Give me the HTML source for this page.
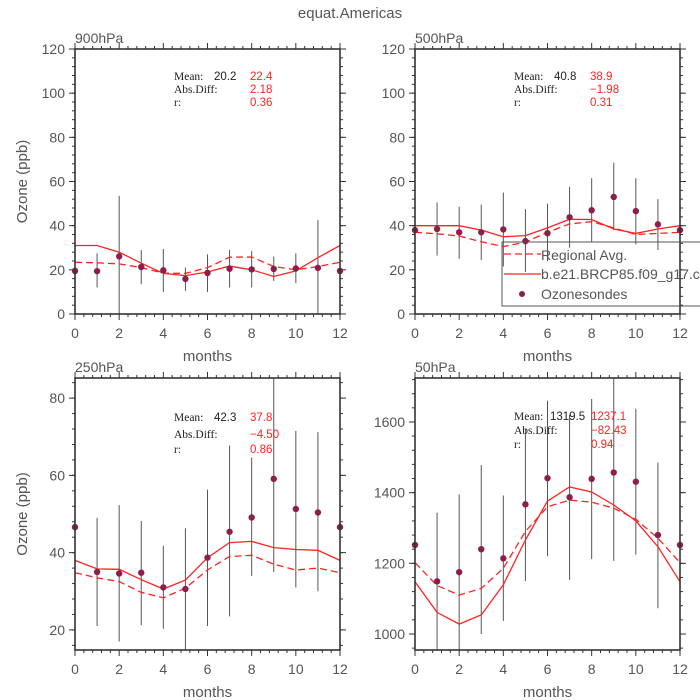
<!DOCTYPE html>
<html><head><meta charset="utf-8">
<style>
html,body{margin:0;padding:0;background:#fff;}
svg{display:block;font-family:"Liberation Sans",sans-serif;}
</style></head>
<body>
<svg id="chart" width="700" height="700" viewBox="0 0 700 700">
<text x="350" y="18" text-anchor="middle" font-size="15" fill="#555">equat.Americas</text>
</svg>
<script>
const months = [0,1,2,3,4,5,6,7,8,9,10,11,12];
const xTicks = [0,2,4,6,8,10,12];
const panelNames = ["900hPa","500hPa","250hPa","50hPa"];
// 900hPa
const p900Model = [31,31,28,23,18.4,17.4,19,21.7,20,17,19.5,25.5,31];
const p900Regional = [23.4,23.2,22.7,21,18.5,18.4,21,25.7,25.8,21.5,20,21.5,23.4];
const p900Obs = [19.5,19.4,26.1,21.3,19.8,15.9,18.6,20.5,20.2,20.4,20.6,20.9,19.5];
const p900Lo = [null,12,0,13.5,10,10.5,10,12,12,15,14,0,null];
const p900Hi = [null,27.5,53.5,29,29.5,21,27,29,28.5,26,27.5,42.5,null];
const p900Ticks = [0,20,40,60,80,100,120];
const p900Stats = ["20.2","22.4","2.18","0.36"];
// 500hPa
const p500Model = [40,40,40,38,35,35.5,39,42.9,42.8,38.5,36.5,38.5,40];
const p500Regional = [37,36.3,35.3,32.7,30.5,32.5,37,40.8,41.8,39,36,36.5,37];
const p500Obs = [38,38.5,37,37,38.3,33,36.6,43.8,47,53,46.6,40.6,38];
const p500Lo = [null,26.5,25,24.5,21.5,19,24,30,32.5,38,31.5,29,null];
const p500Hi = [null,50.5,48.5,49.5,55,47.5,50,57.5,61.5,68.5,61.5,52,null];
const p500Ticks = [0,20,40,60,80,100,120];
const p500Stats = ["40.8","38.9","\u22121.98","0.31"];
// 250hPa
const p250Model = [38,35.8,35.7,33,30.6,32.9,38.7,42.6,42.9,41.3,40.8,40.6,38];
const p250Regional = [34.8,33.5,32.5,29.7,28.3,30.8,35.5,39,39.3,37,35.5,36,34.8];
const p250Obs = [46.6,35,34.6,34.8,31,30.6,38.7,45.4,49.1,59.1,51.3,50.4,46.6];
const p250Lo = [null,21,17,21.2,20.3,10,21,23.5,34,35,31,30,null];
const p250Hi = [null,49,52.3,48.2,41.8,46.3,56.3,67.7,64.6,95,71.5,71.2,null];
const p250Ticks = [20,40,60,80];
const p250Stats = ["42.3","37.8","\u22124.50","0.86"];
// 50hPa
const p50Model = [1148,1061,1028,1054,1139,1266,1376,1416,1402,1365,1320,1247,1148];
const p50Regional = [1202,1137,1110,1129,1186,1290,1360,1379,1373,1356,1325,1271,1202];
const p50Obs = [1252,1149,1175,1240,1214,1367,1441,1387,1439,1457,1431,1280,1252];
const p50Lo = [null,900,900,1000,1037,1150,1220,1153,1212,1207,1225,1073,null];
const p50Hi = [null,1343,1395,1478,1392,1580,1660,1620,1665,1800,1638,1485,null];
const p50Ticks = [1000,1200,1400,1600];
const p50Stats = ["1319.5","1237.1","\u221282.43","0.94"];

const NS="http://www.w3.org/2000/svg";
const svg=document.getElementById('chart');
function mk(tag,attrs,parent){const e=document.createElementNS(NS,tag);for(const k in attrs)e.setAttribute(k,attrs[k]);(parent||svg).appendChild(e);return e;}

const panels=[
 {name:panelNames[0],x0:75,x1:340,y0:49,y1:314,ymin:0,ymax:120,minor:4,model:p900Model,reg:p900Regional,obs:p900Obs,lo:p900Lo,hi:p900Hi,ticks:p900Ticks,stats:p900Stats,sx:174,sv:214,sr:250,sy:[80,93,106],ylab:true,key:'p900'},
 {name:panelNames[1],x0:415,x1:680,y0:49,y1:314,ymin:0,ymax:120,minor:4,model:p500Model,reg:p500Regional,obs:p500Obs,lo:p500Lo,hi:p500Hi,ticks:p500Ticks,stats:p500Stats,sx:514,sv:554,sr:590,sy:[80,93,106],ylab:false,key:'p500'},
 {name:panelNames[2],x0:75,x1:340,y0:378,y1:650,ymin:14.8,ymax:85.2,minor:4,model:p250Model,reg:p250Regional,obs:p250Obs,lo:p250Lo,hi:p250Hi,ticks:p250Ticks,stats:p250Stats,sx:174,sv:214,sr:250,sy:[421,438,453],ylab:true,key:'p250'},
 {name:panelNames[3],x0:415,x1:680,y0:378,y1:650,ymin:954.7,ymax:1724.5,minor:4,model:p50Model,reg:p50Regional,obs:p50Obs,lo:p50Lo,hi:p50Hi,ticks:p50Ticks,stats:p50Stats,sx:514,sv:550,sr:591,sy:[420,434,448],ylab:false,key:'p50'}
];

panels.forEach(p=>{
 const g=mk('g',{});
 
 
 const clipId='clip-'+p.key;
 const cp=mk('clipPath',{id:clipId},g);
 mk('rect',{x:p.x0,y:p.y0,width:p.x1-p.x0,height:p.y1-p.y0},cp);
 const X=v=>p.x0+(v-0)/12*(p.x1-p.x0);
 const Y=v=>p.y1-(v-p.ymin)/(p.ymax-p.ymin)*(p.y1-p.y0);
 // panel label
 const lbl=mk('text',{x:p.x0,y:p.y0-6,'font-size':14,fill:'#555'},g);lbl.textContent=p.name;
 
 
 // ticks
 const tg=mk('g',{stroke:'#333','stroke-width':1},g);
 
 
 for(let i=0;i<xTicks.length;i++){
   const x=X(xTicks[i]);
   mk('line',{x1:x,x2:x,y1:p.y1,y2:p.y1+6},tg);mk('line',{x1:x,x2:x,y1:p.y0,y2:p.y0-6},tg);
   const t=mk('text',{x:x,y:p.y1+24,'text-anchor':'middle','font-size':14,fill:'#555',stroke:'none'},g);t.textContent=xTicks[i];
   
   
   if(i<xTicks.length-1){for(let k=1;k<=p.minor;k++){const xm=X(xTicks[i]+k*(xTicks[i+1]-xTicks[i])/(p.minor+1));
     mk('line',{x1:xm,x2:xm,y1:p.y1,y2:p.y1+3},tg);mk('line',{x1:xm,x2:xm,y1:p.y0,y2:p.y0-3},tg);}}
 }
 const step=p.ticks[1]-p.ticks[0];
 for(let v=p.ticks[0]-step;v<=p.ticks[p.ticks.length-1]+step;v+=step/5){
   if(v<p.ymin-1e-6||v>p.ymax+1e-6)continue;const y=Y(v);
   mk('line',{x1:p.x0,x2:p.x0-3,y1:y,y2:y},tg);mk('line',{x1:p.x1,x2:p.x1+3,y1:y,y2:y},tg);
 }
 p.ticks.forEach(v=>{const y=Y(v);
   mk('line',{x1:p.x0,x2:p.x0-6,y1:y,y2:y},tg);mk('line',{x1:p.x1,x2:p.x1+6,y1:y,y2:y},tg);
   const t=mk('text',{x:p.x0-10,y:y+5,'text-anchor':'end','font-size':14,fill:'#555'},g);t.textContent=v;
   
   
 });
 const xl=mk('text',{x:(p.x0+p.x1)/2,y:p.y1+47,'text-anchor':'middle','font-size':15,fill:'#555'},g);xl.textContent='months';
 
 
 if(p.ylab){const cy=(p.y0+p.y1)/2;const yl=mk('text',{x:27,y:cy,'text-anchor':'middle','font-size':15,fill:'#555',transform:`rotate(-90 27 ${cy})`},g);yl.textContent='Ozone (ppb)';
   
   }
 // data
 const dg=mk('g',{'clip-path':`url(#${clipId})`},g);
 months.forEach((m,i)=>{if(p.lo[i]===null)return;
   const eb=mk('line',{x1:X(m),x2:X(m),y1:Y(p.lo[i]),y2:Y(p.hi[i]),stroke:'#555','stroke-width':1},dg);
   
   });
 const pts=a=>months.map((m,i)=>X(m).toFixed(1)+','+Y(a[i]).toFixed(1)).join(' ');
 const rl=mk('polyline',{points:pts(p.reg),fill:'none',stroke:'#f22','stroke-width':1.3,'stroke-dasharray':'7,4'},dg);
 
 
 const ml=mk('polyline',{points:pts(p.model),fill:'none',stroke:'#f22','stroke-width':1.3},dg);
 
 
 months.forEach((m,i)=>{const c=mk('circle',{cx:X(m),cy:Y(p.obs[i]),r:3.2,fill:'#8b1f4b'},g);
   
   });
 mk('rect',{x:p.x0,y:p.y0,width:p.x1-p.x0,height:p.y1-p.y0,fill:'none',stroke:'#333','stroke-width':1.6},g);
 // stats
 const sg=mk('g',{'font-family':'"Liberation Serif",serif','font-size':11.5},g);
 
 
 const lab=['Mean:','Abs.Diff:','r:'];
 lab.forEach((l,i)=>{const t=mk('text',{x:p.sx,y:p.sy[i],fill:'#222'},sg);t.textContent=l;});
 mk('text',{x:p.sv,y:p.sy[0],fill:'#222','font-family':'"Liberation Sans",sans-serif'},sg).textContent=p.stats[0];
 [p.stats[1],p.stats[2],p.stats[3]].forEach((s,i)=>{mk('text',{x:p.sr,y:p.sy[i],fill:'#f22','font-family':'"Liberation Sans",sans-serif'},sg).textContent=s;});
});
// legend
const lg=mk('g',{});


mk('rect',{x:502,y:242,width:210,height:64,fill:'none',stroke:'#555','stroke-width':1},lg);
mk('line',{x1:504,x2:541,y1:254,y2:254,stroke:'#f22','stroke-width':1.3,'stroke-dasharray':'7,4'},lg);
mk('line',{x1:504,x2:541,y1:274,y2:274,stroke:'#f22','stroke-width':1.3},lg);
mk('circle',{cx:522,cy:294,r:3,fill:'#8b1f4b'},lg);
const l1=mk('text',{x:541,y:260,'font-size':14,fill:'#555'},lg);l1.textContent='Regional Avg.';


const l2=mk('text',{x:541,y:279,'font-size':14,fill:'#555'},lg);l2.textContent='b.e21.BRCP85.f09_g17.cam';


const l3=mk('text',{x:541,y:299,'font-size':14,fill:'#555'},lg);l3.textContent='Ozonesondes';


</script>
</body></html>
